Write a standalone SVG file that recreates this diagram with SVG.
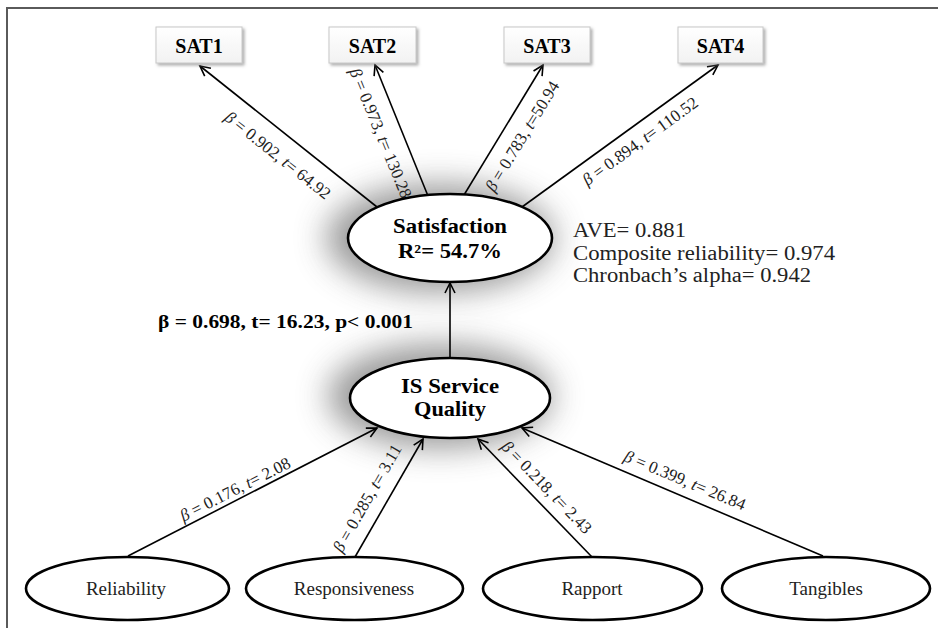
<svg xmlns="http://www.w3.org/2000/svg" width="938" height="628" viewBox="0 0 938 628">
<defs>
<style>
.conn{stroke:#000;stroke-width:1.6;fill:none;marker-end:url(#arr)}
.ell{fill:#fff;stroke:#000;stroke-width:2.6}
.box{fill:url(#boxg);stroke:#c8c8c8;stroke-width:1;filter:url(#ds)}
.bold{font-family:"Liberation Serif","Times New Roman",serif;font-weight:bold;fill:#000}
.reg{font-family:"Liberation Serif","Times New Roman",serif;fill:#222}
.lbl{font-family:"Liberation Serif","Times New Roman",serif;font-size:17px;fill:#222;text-anchor:middle}
.it{font-style:italic}
</style>
<marker id="arr" markerUnits="userSpaceOnUse" markerWidth="14" markerHeight="14" refX="11" refY="6" orient="auto" viewBox="0 0 14 12">
<path d="M1,1 L11,6 L1,11" fill="none" stroke="#000" stroke-width="1.6"/>
</marker>
<linearGradient id="boxg" x1="0" y1="0" x2="0" y2="1">
<stop offset="0" stop-color="#ffffff"/>
<stop offset="1" stop-color="#f2f2f2"/>
</linearGradient>
<filter id="ds" x="-20%" y="-20%" width="140%" height="160%">
<feDropShadow dx="2" dy="2" stdDeviation="1.5" flood-color="#777" flood-opacity="0.6"/>
</filter>
<filter id="glow" x="-60%" y="-80%" width="220%" height="260%">
<feGaussianBlur stdDeviation="16"/>
</filter>
</defs>
<rect width="938" height="628" fill="#fff"/>
<path d="M7,628 L7,8 L938,8" fill="none" stroke="#5a5a5a" stroke-width="2"/>

<g id="glows" opacity="0.6">
<ellipse cx="440" cy="238" rx="114" ry="54" fill="#555" filter="url(#glow)"/>
<ellipse cx="440" cy="396" rx="112" ry="52" fill="#555" filter="url(#glow)"/>
</g>

<g id="connectors">
<line class="conn" x1="377" y1="207" x2="200" y2="66"/>
<line class="conn" x1="428" y1="196" x2="375" y2="65"/>
<line class="conn" x1="464" y1="195" x2="543" y2="65"/>
<line class="conn" x1="522" y1="207" x2="718" y2="65"/>
<line class="conn" x1="450" y1="358" x2="450" y2="283"/>
<line class="conn" x1="128" y1="556" x2="377" y2="428"/>
<line class="conn" x1="355" y1="557" x2="423" y2="439"/>
<line class="conn" x1="592" y1="557" x2="478" y2="439"/>
<line class="conn" x1="823" y1="556" x2="522" y2="428"/>
</g>

<g id="connector-labels">
<text class="lbl" transform="translate(278,155) rotate(38.5)" dy="0.35em"><tspan class="it">β</tspan> = 0.902, <tspan class="it">t</tspan>= 64.92</text>
<text class="lbl" transform="translate(381,133) rotate(67.8)" dy="0.35em"><tspan class="it">β</tspan> = 0.973, <tspan class="it">t</tspan>= 130.28</text>
<text class="lbl" transform="translate(522,136) rotate(-58.5)" dy="0.35em"><tspan class="it">β</tspan> = 0.783, <tspan class="it">t</tspan>=50.94</text>
<text class="lbl" transform="translate(640,141) rotate(-35.9)" dy="0.35em"><tspan class="it">β</tspan> = 0.894, <tspan class="it">t</tspan>= 110.52</text>
<text class="lbl" transform="translate(235,489) rotate(-26.8)" dy="0.35em"><tspan class="it">β</tspan> = 0.176, <tspan class="it">t</tspan>= 2.08</text>
<text class="lbl" transform="translate(367,498) rotate(-60.2)" dy="0.35em"><tspan class="it">β</tspan> = 0.285, <tspan class="it">t</tspan>= 3.11</text>
<text class="lbl" transform="translate(547,487) rotate(46)" dy="0.35em"><tspan class="it">β</tspan> = 0.218, <tspan class="it">t</tspan>= 2.43</text>
<text class="lbl" transform="translate(685,480) rotate(22.7)" dy="0.35em"><tspan class="it">β</tspan> = 0.399, <tspan class="it">t</tspan>= 26.84</text>
<text class="bold" x="158" y="328" font-size="19" textLength="255" lengthAdjust="spacingAndGlyphs">β = 0.698, t= 16.23, p&lt; 0.001</text>
</g>

<g id="sat1"><rect class="box" x="156" y="27" width="86" height="36"/><text class="bold" x="199" y="53" font-size="20" text-anchor="middle">SAT1</text></g>
<g id="sat2"><rect class="box" x="329" y="27" width="87" height="36"/><text class="bold" x="372.5" y="53" font-size="20" text-anchor="middle">SAT2</text></g>
<g id="sat3"><rect class="box" x="504" y="27" width="86" height="36"/><text class="bold" x="547" y="53" font-size="20" text-anchor="middle">SAT3</text></g>
<g id="sat4"><rect class="box" x="678" y="27" width="85" height="36"/><text class="bold" x="720.5" y="53" font-size="20" text-anchor="middle">SAT4</text></g>

<g id="satisfaction">
<ellipse class="ell" cx="450" cy="238" rx="102" ry="44"/>
<text class="bold" x="450" y="233" font-size="20" text-anchor="middle" textLength="114" lengthAdjust="spacingAndGlyphs">Satisfaction</text>
<text class="bold" x="450" y="258" font-size="20" text-anchor="middle" textLength="104" lengthAdjust="spacingAndGlyphs">R²= 54.7%</text>
</g>

<g id="fit-indices">
<text class="reg" x="573" y="237" font-size="20" textLength="113" lengthAdjust="spacingAndGlyphs">AVE= 0.881</text>
<text class="reg" x="573" y="260" font-size="20" textLength="262" lengthAdjust="spacingAndGlyphs">Composite reliability= 0.974</text>
<text class="reg" x="573" y="282" font-size="20" textLength="238" lengthAdjust="spacingAndGlyphs">Chronbach’s alpha= 0.942</text>
</g>

<g id="is-service-quality">
<ellipse class="ell" cx="450" cy="398" rx="100" ry="40"/>
<text class="bold" x="450" y="393" font-size="20" text-anchor="middle" textLength="98" lengthAdjust="spacingAndGlyphs">IS Service</text>
<text class="bold" x="450" y="416" font-size="20" text-anchor="middle" textLength="72" lengthAdjust="spacingAndGlyphs">Quality</text>
</g>

<g id="reliability">
<ellipse class="ell" cx="127.5" cy="588.5" rx="101.5" ry="31.5"/>
<text class="reg" x="126" y="595" font-size="19" text-anchor="middle">Reliability</text>
</g>
<g id="responsiveness">
<ellipse class="ell" cx="354.5" cy="588.5" rx="108.5" ry="31.5"/>
<text class="reg" x="354" y="595" font-size="19" text-anchor="middle">Responsiveness</text>
</g>
<g id="rapport">
<ellipse class="ell" cx="592.5" cy="588.5" rx="109.5" ry="31.5"/>
<text class="reg" x="592" y="595" font-size="19" text-anchor="middle">Rapport</text>
</g>
<g id="tangibles">
<ellipse class="ell" cx="826" cy="588.5" rx="104" ry="31.5"/>
<text class="reg" x="826" y="595" font-size="19" text-anchor="middle">Tangibles</text>
</g>
</svg>
